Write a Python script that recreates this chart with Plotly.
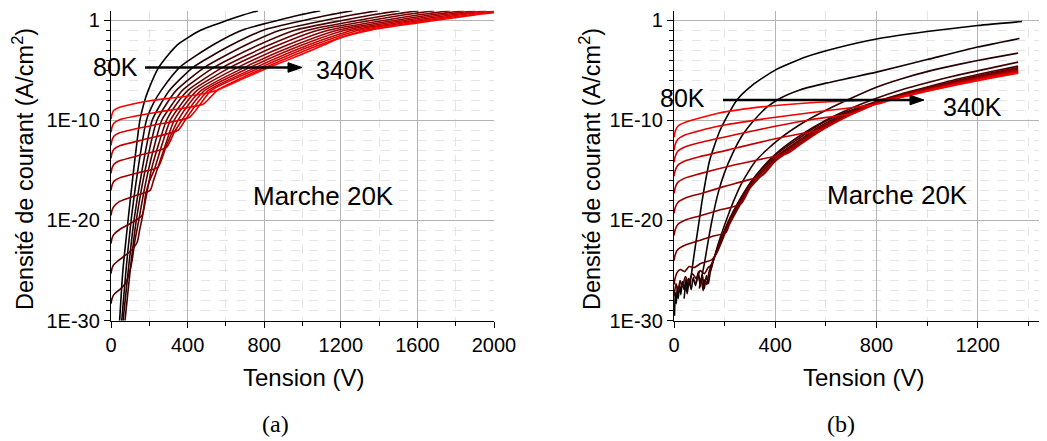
import plotly.graph_objects as go

# ---------------- data ----------------
temperatures_K = [80, 100, 120, 140, 160, 180, 200, 220, 240, 260, 280, 300, 320, 340]
ytick_labels = ["1E-30", "1E-20", "1E-10", "1"]
ytick_exponents = [-30, -20, -10, 0]

# Panel (a): V (volts) and log10 of current density (A/cm^2)
a80_v = [45, 62, 89, 118, 151, 172, 195, 250, 345, 470, 611, 690, 768]
a80_j = [-30, -25, -20, -15, -10, -8.3, -7, -4.7, -2.5, -1, 0, 0.5, 0.93]
a100_v = [56, 78, 105, 140, 185, 222, 263, 360, 532, 687, 879, 985, 1093]
a100_j = [-30, -25, -20, -15, -10, -8.3, -7, -4.7, -2.5, -1, 0, 0.5, 0.93]
a120_v = [63, 90, 120, 162, 215, 262, 306, 430, 628, 799, 1017, 1138, 1261]
a120_j = [-30, -25, -20, -15, -10, -8.3, -7, -4.7, -2.5, -1, 0, 0.5, 0.93]
a140_v = [73, 100, 132, 178, 240, 292, 342, 490, 704, 887, 1126, 1257, 1393]
a140_j = [-30, -25, -20, -15, -10, -8.3, -7, -4.7, -2.5, -1, 0, 0.5, 0.93]
a160_v = [0, 5, 15, 45, 75, 95, 110, 125, 145, 170, 195, 230, 265, 320, 374, 540, 770, 964, 1220, 1362, 1507]
a160_j = [-28.3, -27.8, -27.4, -26.9, -26.3, -25.3, -24, -22, -20, -17.3, -15, -12.3, -10, -8.4, -7, -4.7, -2.5, -1, 0, 0.5, 0.93]
a180_v = [0, 5, 15, 45, 100, 136, 150, 160, 185, 210, 250, 290, 345, 403, 585, 826, 1030, 1302, 1451, 1606]
a180_j = [-25.3, -24.8, -24.4, -23.9, -23.1, -22.2, -20.9, -20, -17.5, -15, -12.3, -10, -8.3, -7, -4.7, -2.5, -1, 0, 0.5, 0.93]
a200_v = [0, 5, 15, 45, 110, 162, 180, 200, 225, 265, 310, 370, 427, 625, 874, 1085, 1370, 1526, 1688]
a200_j = [-22.3, -21.8, -21.4, -20.9, -20.2, -19.5, -17.5, -16.1, -15, -12.5, -10, -8.3, -7, -4.7, -2.5, -1, 0, 0.5, 0.93]
a220_v = [0, 5, 15, 45, 130, 204, 222, 240, 285, 330, 390, 451, 665, 921, 1140, 1438, 1601, 1771]
a220_j = [-19.5, -19.0, -18.6, -18.1, -17.5, -17, -16, -15, -12.4, -10, -8.3, -7, -4.7, -2.5, -1, 0, 0.5, 0.93]
a240_v = [0, 5, 15, 45, 150, 245, 290, 350, 410, 473, 700, 962, 1187, 1496, 1665, 1842]
a240_j = [-17.0, -16.5, -16.1, -15.75, -15.2, -14.7, -12.5, -10, -8.3, -7, -4.7, -2.5, -1, 0, 0.5, 0.93]
a260_v = [0, 5, 15, 45, 170, 290, 330, 370, 430, 491, 730, 997, 1228, 1546, 1721, 1903]
a260_j = [-15.3, -14.8, -14.4, -14.05, -13.4, -12.7, -11.2, -10, -8.3, -7, -4.7, -2.5, -1, 0, 0.5, 0.93]
a280_v = [0, 5, 15, 45, 200, 350, 390, 450, 510, 760, 1030, 1267, 1595, 1774, 1961]
a280_j = [-13.8, -13.3, -12.9, -12.55, -11.8, -11.0, -9.9, -8.3, -7, -4.7, -2.5, -1, 0, 0.5, 0.93]
a300_v = [0, 5, 15, 45, 220, 410, 470, 525, 785, 1059, 1300, 1635, 1819, 2000]
a300_j = [-12.5, -12.0, -11.6, -11.25, -10.5, -9.7, -8.3, -7, -4.7, -2.5, -1, 0, 0.5, 0.9]
a320_v = [0, 5, 15, 45, 240, 480, 520, 560, 680, 810, 1088, 1334, 1677, 1865, 2000]
a320_j = [-11.2, -10.7, -10.3, -9.95, -9.2, -8.4, -7.7, -6.95, -5.8, -4.7, -2.5, -1, 0, 0.5, 0.8]
a340_v = [0, 5, 15, 45, 120, 204, 376, 480, 553, 690, 830, 987, 1110, 1196, 1360, 1600, 1709, 1900, 2000]
a340_j = [-9.9, -9.4, -9.0, -8.7, -8.35, -8.05, -7.65, -7.35, -7.0, -5.85, -4.7, -3.5, -2.5, -1.8, -1, -0.3, 0, 0.5, 0.72]

# Panel (b)
b80_v = [2, 5, 9, 13, 17, 22, 27, 33, 40, 47, 53, 58, 63, 68, 80, 95, 110, 125, 141, 182, 248, 310, 400, 520, 650, 800, 1000, 1200, 1375]
b80_j = [-29.5, -27.2, -28.3, -26.6, -27.8, -26.3, -27.4, -26.1, -26.9, -25.9, -26.7, -25.8, -26.4, -25.5, -23.3, -20.8, -18.2, -16, -14, -11, -8, -6.5, -5.0, -3.7, -2.75, -1.9, -1.15, -0.55, -0.15]
b100_v = [40, 46, 52, 60, 68, 76, 85, 95, 104, 112, 120, 132, 150, 175, 200, 230, 270, 313, 367, 420, 500, 600, 700, 800, 1000, 1200, 1365]
b100_j = [-27.8, -26.4, -27.3, -26.0, -26.9, -25.7, -26.5, -25.4, -26.2, -25.3, -24.3, -22.5, -20, -17.2, -15.2, -13.4, -11.5, -10.1, -8.7, -7.8, -6.95, -6.3, -5.75, -5.2, -3.95, -2.7, -1.85]
b120_v = [88, 96, 104, 112, 120, 128, 136, 143, 150, 160, 174, 195, 215, 240, 265, 295, 325, 400, 500, 600, 700, 800, 900, 1000, 1130, 1250, 1360]
b120_j = [-26.2, -25.1, -26.6, -25.4, -26.8, -25.5, -26.3, -25.2, -24.6, -23.6, -22.4, -20.8, -19.4, -17.8, -16.4, -15.1, -14.0, -12.2, -10.4, -9.0, -7.8, -6.7, -5.85, -5.15, -4.4, -3.8, -3.3]
b140_v = [100, 108, 115, 122, 130, 137, 145, 160, 190, 220, 260, 300, 350, 400, 500, 600, 700, 800, 900, 1000, 1130, 1250, 1360]
b140_j = [-26.8, -25.7, -27.0, -25.9, -26.4, -25.3, -24.6, -23.7, -21.6, -19.8, -17.9, -16.3, -14.7, -13.4, -11.5, -10.0, -8.8, -7.8, -6.95, -6.25, -5.45, -4.8, -4.2]
b160_v = [0, 8, 16, 24, 33, 45, 58, 72, 88, 104, 120, 135, 145, 180, 220, 300, 400, 500, 577, 680, 800, 900, 1000, 1130, 1250, 1360]
b160_j = [-27.6, -26.3, -27.1, -26.0, -26.6, -25.6, -26.2, -25.3, -25.8, -25.0, -25.3, -24.7, -24.5, -22.4, -20.0, -16.3, -13.5, -11.7, -10.4, -9.18, -8.12, -7.35, -6.68, -5.84, -5.17, -4.6]
b180_v = [0, 5, 12, 25, 42, 60, 80, 105, 130, 150, 170, 220, 300, 400, 500, 577, 680, 800, 900, 1000, 1130, 1250, 1360]
b180_j = [-26.4, -25.7, -25.2, -24.9, -25.1, -24.6, -24.7, -24.3, -24.1, -23.9, -23.2, -20.2, -16.5, -13.7, -11.9, -10.6, -9.31, -8.18, -7.43, -6.77, -5.96, -5.3, -4.75]
b200_v = [0, 5, 15, 45, 100, 150, 205, 220, 260, 300, 400, 500, 577, 680, 800, 900, 1000, 1130, 1250, 1360]
b200_j = [-24.0, -23.4, -22.9, -22.45, -22.0, -21.6, -21.2, -20.35, -18.5, -16.65, -13.85, -12.05, -10.75, -9.41, -8.22, -7.48, -6.83, -6.04, -5.4, -4.85]
b220_v = [0, 5, 15, 45, 100, 174, 265, 300, 350, 400, 500, 577, 680, 800, 900, 1000, 1130, 1250, 1360]
b220_j = [-21.5, -20.9, -20.4, -19.95, -19.55, -19.0, -18.35, -16.8, -15.4, -14.0, -12.2, -10.9, -9.51, -8.26, -7.52, -6.89, -6.12, -5.48, -4.95]
b240_v = [0, 5, 15, 45, 108, 200, 280, 350, 400, 500, 577, 680, 800, 900, 1000, 1130, 1250, 1360]
b240_j = [-19.3, -18.7, -18.2, -17.75, -17.3, -16.6, -16.05, -15.5, -14.1, -12.3, -11.0, -9.58, -8.29, -7.56, -6.93, -6.18, -5.55, -5.02]
b260_v = [0, 5, 15, 45, 100, 250, 370, 450, 500, 577, 680, 800, 900, 1000, 1130, 1250, 1360]
b260_j = [-17.3, -16.7, -16.2, -15.75, -15.35, -14.4, -13.75, -13.3, -12.4, -11.1, -9.65, -8.32, -7.6, -6.98, -6.24, -5.62, -5.1]
b280_v = [0, 5, 15, 45, 100, 250, 400, 500, 575, 680, 800, 900, 1000, 1130, 1250, 1360]
b280_j = [-15.6, -15.0, -14.5, -14.05, -13.65, -12.75, -11.85, -11.35, -11.0, -9.69, -8.34, -7.62, -7.01, -6.28, -5.67, -5.15]
b300_v = [0, 5, 15, 45, 107, 250, 400, 550, 710, 800, 900, 1000, 1130, 1250, 1360]
b300_j = [-14.2, -13.6, -13.1, -12.65, -12.2, -11.4, -10.6, -9.9, -9.3, -8.36, -7.65, -7.04, -6.32, -5.71, -5.2]
b320_v = [0, 5, 15, 45, 174, 372, 569, 700, 810, 900, 1000, 1130, 1250, 1360]
b320_j = [-13.0, -12.4, -11.9, -11.45, -10.6, -9.8, -9.15, -8.75, -8.35, -7.68, -7.07, -6.36, -5.75, -5.25]
b340_v = [0, 5, 15, 45, 174, 372, 569, 767, 880, 1000, 1130, 1250, 1360]
b340_j = [-11.7, -11.1, -10.6, -10.2, -9.3, -8.6, -8.2, -8.0, -7.82, -7.1, -6.4, -5.8, -5.3]

panel_a = [(a80_v, a80_j), (a100_v, a100_j), (a120_v, a120_j), (a140_v, a140_j),
           (a160_v, a160_j), (a180_v, a180_j), (a200_v, a200_j), (a220_v, a220_j),
           (a240_v, a240_j), (a260_v, a260_j), (a280_v, a280_j), (a300_v, a300_j),
           (a320_v, a320_j), (a340_v, a340_j)]
panel_b = [(b80_v, b80_j), (b100_v, b100_j), (b120_v, b120_j), (b140_v, b140_j),
           (b160_v, b160_j), (b180_v, b180_j), (b200_v, b200_j), (b220_v, b220_j),
           (b240_v, b240_j), (b260_v, b260_j), (b280_v, b280_j), (b300_v, b300_j),
           (b320_v, b320_j), (b340_v, b340_j)]

# ---------------- figure ----------------
FONT = "Liberation Sans, Arial, sans-serif"
SERIF = "Liberation Serif, DejaVu Serif, serif"
n = len(temperatures_K)
# the page body keeps its default 8 px margin, so the figure is drawn 8 px in
OFF = 8
W, H = 1047 - OFF, 441 - OFF


def curve_color(i):
    return "rgb(%d,0,0)" % round(255 * i / (n - 1))


def px(x, y):
    """window pixel -> paper fraction"""
    return (x - OFF) / W, (H - (y - OFF)) / H


fig = go.Figure()
for panel, xa, ya in ((panel_a, "x", "y"), (panel_b, "x2", "y2")):
    for i, (v, lj) in enumerate(panel):
        fig.add_trace(go.Scatter(
            x=v, y=[10.0 ** e for e in lj], mode="lines", xaxis=xa, yaxis=ya,
            line=dict(color=curve_color(i), width=1.6, shape="spline", smoothing=0.6),
            name="%d K" % temperatures_K[i], showlegend=False, hoverinfo="skip"))

ydom = [px(0, 320.7)[1], px(0, 10.7)[1]]


def x_axis(domain, rng, anchor):
    return dict(domain=domain, range=rng, anchor=anchor, tickmode="linear", tick0=0, dtick=400,
                ticks="outside", ticklen=6, tickwidth=1.2, tickcolor="black",
                showline=True, linecolor="black", linewidth=1.3, zeroline=False,
                showgrid=True, gridcolor="#b4b4b4", gridwidth=1, automargin=False,
                tickfont=dict(family=FONT, size=20, color="black"),
                minor=dict(tickmode="linear", tick0=0, dtick=200, ticks="outside", ticklen=4,
                           tickcolor="black", showgrid=True, gridcolor="#e4e4e4",
                           griddash="dash", gridwidth=1))


def y_axis(anchor):
    return dict(domain=ydom, type="log", range=[-30, 0.928], anchor=anchor,
                tickmode="array", tickvals=[10.0 ** e for e in ytick_exponents],
                ticktext=ytick_labels, ticks="outside", ticklen=6, tickwidth=1.2,
                tickcolor="black", showline=True, linecolor="black", linewidth=1.3,
                zeroline=False, showgrid=True, gridcolor="#b4b4b4", gridwidth=1,
                automargin=False,
                tickfont=dict(family=FONT, size=20, color="black"),
                minor=dict(tickmode="array", tickvals=[10.0 ** k for k in range(-30, 1)],
                           ticks="outside", ticklen=4, tickcolor="black", showgrid=True,
                           gridcolor="#e4e4e4", griddash="dash", gridwidth=1))


anns = []
shapes = []


def text(x, y, s, size, family=FONT, angle=0):
    xx, yy = px(x, y)
    anns.append(dict(x=xx, y=yy, xref="paper", yref="paper", text=s, showarrow=False,
                     textangle=angle, xanchor="center", yanchor="middle",
                     font=dict(family=family, size=size, color="black")))


def arrow(x0, x1, y):
    head_len, head_half = 14, 4.8
    a0, b0 = px(x0, y)
    a1, _ = px(x1 - head_len + 1, y)
    shapes.append(dict(type="line", xref="paper", yref="paper", x0=a0, y0=b0, x1=a1, y1=b0,
                       line=dict(color="black", width=2.4)))
    tx, ty = px(x1, y)
    bx, by_top = px(x1 - head_len, y - head_half)
    _, by_bot = px(x1 - head_len, y + head_half)
    shapes.append(dict(type="path", xref="paper", yref="paper",
                       path="M %f,%f L %f,%f L %f,%f Z" % (bx, by_top, tx, ty, bx, by_bot),
                       fillcolor="black", line=dict(color="black", width=1)))


ytitle = "Densité de courant (A/cm<sup>2</sup>)"
xtitle = "Tension (V)"
# panel (a)
text(23, 169, ytitle, 23.5, angle=-90)
text(303, 377, xtitle, 24)
text(115, 67, "80K", 25)
text(345, 70, "340K", 25)
text(323, 196, "Marche 20K", 26)
arrow(145, 302, 67.5)
text(275, 424, "(a)", 24, family=SERIF)
# panel (b)
text(590, 169, ytitle, 23.5, angle=-90)
text(863, 377, xtitle, 24)
text(682, 98, "80K", 25)
text(972, 107, "340K", 25)
text(897, 195, "Marche 20K", 26)
arrow(723, 924, 100)
text(841, 424, "(b)", 24, family=SERIF)

fig.update_layout(
    width=W, height=H, autosize=False,
    margin=dict(l=0, r=0, t=0, b=0, pad=0, autoexpand=False),
    paper_bgcolor="white", plot_bgcolor="white",
    xaxis=x_axis([px(111, 0)[0], px(494, 0)[0]], [0, 2000], "y"),
    yaxis=y_axis("x"),
    xaxis2=x_axis([px(674, 0)[0], 1.0], [0, 1474], "y2"),
    yaxis2=y_axis("x2"),
    annotations=anns,
    shapes=shapes,
    showlegend=False,
)

fig.write_html("out.html")
